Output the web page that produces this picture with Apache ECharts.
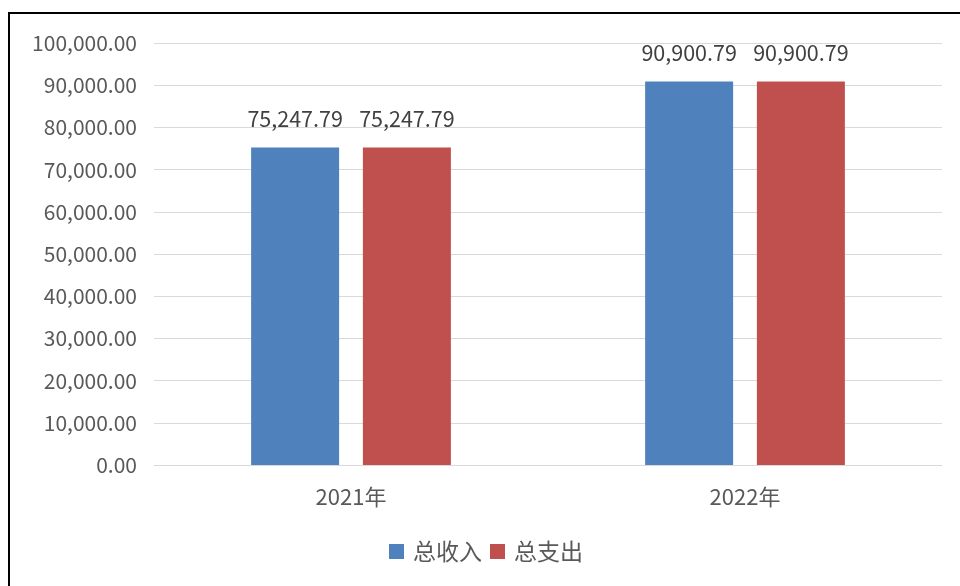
<!DOCTYPE html>
<html><head><meta charset="utf-8">
<script src="https://cdn.jsdelivr.net/npm/echarts@6/dist/echarts.min.js"></script>
<style>html,body{margin:0;padding:0;background:#fff;}#c{width:960px;height:586px;}</style>
</head><body><div id="c"></div>
<script>
const categories = ['2021年', '2022年'];
const income = [75247.79, 90900.79];
const expense = [75247.79, 90900.79];
const seriesNames = ['总收入', '总支出'];

const FONT = '"Noto Sans CJK SC", "Noto Sans", sans-serif';
const fmt = v => v.toLocaleString('en-US', {minimumFractionDigits: 2, maximumFractionDigits: 2});
const chart = echarts.init(document.getElementById('c'));
const labelCfg = {show: true, position: 'top', distance: 18, color: '#404040', fontSize: 21.5, fontFamily: FONT,
  formatter: p => fmt(p.value)};
chart.setOption({
  animation: false,
  textStyle: {fontFamily: FONT},
  graphic: [{type: 'rect', shape: {x: 9, y: 13, width: 1000, height: 1000}, style: {fill: 'none', stroke: '#000', lineWidth: 2}}],
  grid: {left: 154, right: 18, top: 43, bottom: 121, containLabel: false},
  legend: {top: 535, left: 384, itemWidth: 15, itemHeight: 15, itemGap: 8, icon: 'rect',
    textStyle: {color: '#595959', fontSize: 23, fontFamily: FONT, padding: [0, 0, 0, 4]}, data: seriesNames},
  xAxis: {type: 'category', data: categories,
    axisLine: {lineStyle: {color: '#d9d9d9', width: 1}}, axisTick: {show: false},
    axisLabel: {color: '#595959', fontSize: 22, margin: 21, fontFamily: FONT}},
  yAxis: {type: 'value', min: 0, max: 100000, interval: 10000,
    axisLine: {show: false}, axisTick: {show: false},
    splitLine: {lineStyle: {color: '#d9d9d9', width: 1}},
    axisLabel: {color: '#595959', fontSize: 21, margin: 17, fontFamily: FONT, formatter: v => fmt(v)}},
  series: [
    {name: seriesNames[0], type: 'bar', data: income, barWidth: 88, barGap: '27%', itemStyle: {color: '#4f81bd'}, label: labelCfg},
    {name: seriesNames[1], type: 'bar', data: expense, barWidth: 88, barGap: '27%', itemStyle: {color: '#c0504d'}, label: labelCfg}
  ]
});
</script></body></html>
